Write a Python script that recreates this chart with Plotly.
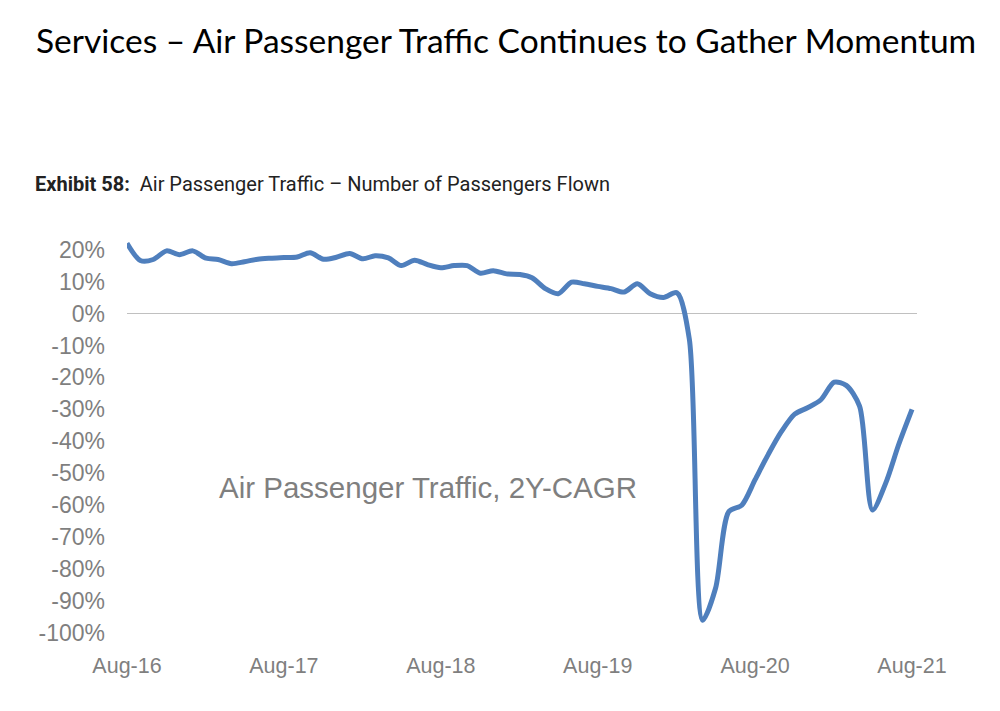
import pandas as pd
import plotly.graph_objects as go

# ---- data ----
months = pd.date_range("2016-08-01", "2021-08-01", freq="MS")
cagr_2y = [
    22.0, 16.6, 16.9, 19.6, 18.4, 19.6, 17.3, 16.9, 15.6, 16.2,
    17.0, 17.3, 17.5, 17.7, 19.0, 17.0, 17.6, 18.8, 17.1, 18.1,
    17.4, 15.0, 16.7, 15.3, 14.3, 15.0, 15.0, 12.6, 13.4, 12.4,
    12.2, 11.2, 7.8, 6.2, 9.8, 9.3, 8.5, 7.8, 6.7, 9.3,
    6.2, 5.0, 6.5, -8.0, -96.0, -86.0, -62.0, -60.0, -52.0, -44.0,
    -37.0, -31.5, -29.5, -27.0, -21.5, -22.5, -29.0, -61.5, -53.0, -41.0,
    -30.0,
]
y_ticks = [20, 10, 0, -10, -20, -30, -40, -50, -60, -70, -80, -90, -100]
y_tick_labels = ["20%", "10%", "0%", "-10%", "-20%", "-30%", "-40%", "-50%",
                 "-60%", "-70%", "-80%", "-90%", "-100%"]
x_ticks = ["2016-08-01", "2017-08-01", "2018-08-01", "2019-08-01", "2020-08-01", "2021-08-01"]
x_tick_labels = ["Aug-16", "Aug-17", "Aug-18", "Aug-19", "Aug-20", "Aug-21"]

title_text = "Services – Air Passenger Traffic Continues to Gather Momentum"
subtitle_text = "<b>Exhibit 58:</b>  Air Passenger Traffic – Number of Passengers Flown"
series_label = "Air Passenger Traffic, 2Y-CAGR"

fig = go.Figure()
fig.add_trace(go.Scatter(
    x=months, y=cagr_2y, mode="lines",
    line=dict(color="#4f7fbd", width=5, shape="spline", smoothing=0.8),
    showlegend=False, hoverinfo="x+y",
))

gray = "#7f7f7f"
fig.update_layout(
    width=1000, height=711,
    margin=dict(l=127, r=83, t=234, b=68),
    paper_bgcolor="white", plot_bgcolor="white",
    xaxis=dict(
        range=["2016-08-01", "2021-08-12 14:00"],
        tickvals=x_ticks, ticktext=x_tick_labels,
        showgrid=False, zeroline=False, showline=False,
        ticks="", ticklabelstandoff=7,
        tickfont=dict(family="Liberation Sans, Arial", size=21.5, color=gray),
    ),
    yaxis=dict(
        range=[-103.13, 24.88],
        tickvals=y_ticks, ticktext=y_tick_labels,
        showgrid=False, zeroline=True, zerolinecolor="#c0c0c0", zerolinewidth=1.2,
        showline=False, ticks="", ticklabelstandoff=21,
        tickfont=dict(family="Liberation Sans, Arial", size=23, color=gray),
    ),
    annotations=[
        dict(text=title_text, xref="paper", yref="paper", x=0.5, y=0,
             xanchor="center", yanchor="middle", showarrow=False,
             font=dict(family="Lato", size=33.5, color="black")),
        dict(text=subtitle_text, xref="paper", yref="paper", x=0, y=0,
             xanchor="left", yanchor="middle", showarrow=False,
             font=dict(family="Roboto", size=20, color="#222222")),
        dict(text=series_label, xref="paper", yref="paper", x=0, y=0,
             xanchor="center", yanchor="middle", showarrow=False,
             font=dict(family="Liberation Sans, Arial", size=29.5, color=gray)),
    ],
)

# place the texts in pixel terms relative to the plot area
plot_w = 1000 - 127 - 83
plot_h = 711 - 234 - 68
def px_to_paper(xp, yp):
    return (xp - 127) / plot_w, (711 - 68 - yp) / plot_h

anns = list(fig.layout.annotations)
for ann, (xp, yp) in zip(anns, [(506, 40), (33, 184), (428, 487)]):
    ax, ay = px_to_paper(xp, yp)
    ann.x = ax
    ann.y = ay
fig.layout.annotations = anns

fig.write_html("out.html")
